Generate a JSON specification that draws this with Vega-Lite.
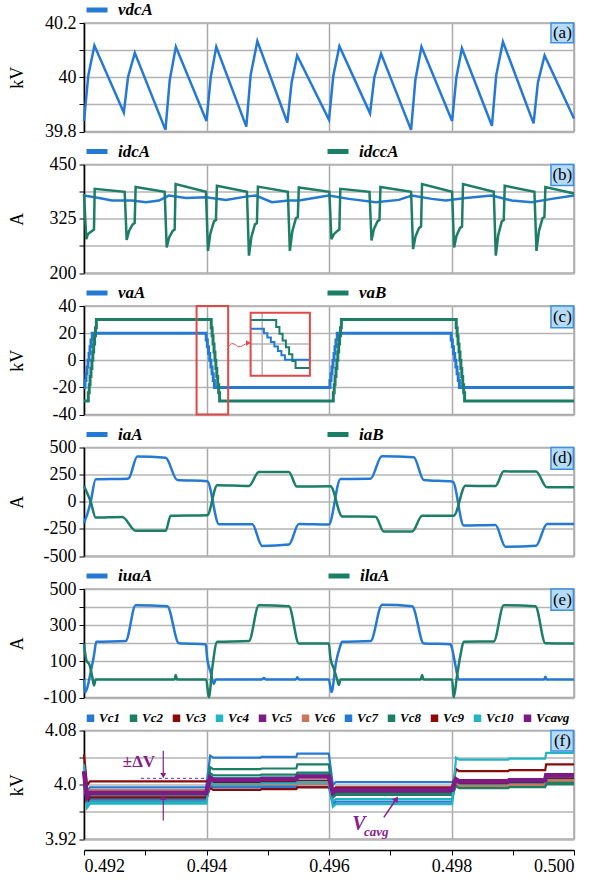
{
"$schema":"https://vega.github.io/schema/vega-lite/v6.json",
"padding":{"left":7,"top":-4,"right":5,"bottom":5},
"bounds":"flush",
"spacing":32.5,
"config":{
 "font":"'Liberation Serif', 'Times New Roman', serif",
 "view":{"stroke":"#aaaaaa","strokeWidth":1.5},
 "axis":{"labelFont":"'Liberation Serif', 'Times New Roman', serif","titleFont":"'Liberation Serif', 'Times New Roman', serif","labelColor":"black","titleColor":"black","labelFontSize":18,"titleFontSize":18,"titleFontWeight":"normal","labelOverlap":false},
 "axisX":{"gridColor":"#aaaaaa","gridWidth":1.5},
 "axisY":{"minExtent":48,"maxExtent":48,"titlePadding":10,"tickSize":5,"labelPadding":3,"domainColor":"black","domainWidth":1.5,"tickColor":"black","gridColor":"#b4b4b4","gridWidth":1.5},
 "legend":{"labelFont":"'Liberation Serif', 'Times New Roman', serif","labelColor":"black","labelFontStyle":"italic","labelFontWeight":"bold","padding":0,"offset":3}
},
"datasets":{
"a":[
{"t":0.492,"s":"vdcA","v":39.839},{"t":0.49207,"s":"vdcA","v":40.006},{"t":0.49217,"s":"vdcA","v":40.117},
{"t":0.49265,"s":"vdcA","v":39.87},{"t":0.49272,"s":"vdcA","v":40.002},{"t":0.49283,"s":"vdcA","v":40.09},
{"t":0.49333,"s":"vdcA","v":39.806},{"t":0.4934,"s":"vdcA","v":39.99},{"t":0.4935,"s":"vdcA","v":40.112},
{"t":0.494,"s":"vdcA","v":39.839},{"t":0.49407,"s":"vdcA","v":40.002},{"t":0.49416,"s":"vdcA","v":40.112},
{"t":0.49465,"s":"vdcA","v":39.818},{"t":0.49472,"s":"vdcA","v":40.007},{"t":0.49483,"s":"vdcA","v":40.133},
{"t":0.49532,"s":"vdcA","v":39.833},{"t":0.49539,"s":"vdcA","v":39.981},{"t":0.49548,"s":"vdcA","v":40.08},
{"t":0.496,"s":"vdcA","v":39.843},{"t":0.49607,"s":"vdcA","v":40.006},{"t":0.49617,"s":"vdcA","v":40.114},
{"t":0.49667,"s":"vdcA","v":39.867},{"t":0.49674,"s":"vdcA","v":39.999},{"t":0.49685,"s":"vdcA","v":40.087},
{"t":0.49734,"s":"vdcA","v":39.806},{"t":0.49741,"s":"vdcA","v":39.99},{"t":0.49751,"s":"vdcA","v":40.112},
{"t":0.49801,"s":"vdcA","v":39.839},{"t":0.49808,"s":"vdcA","v":40.0},{"t":0.49817,"s":"vdcA","v":40.107},
{"t":0.49866,"s":"vdcA","v":39.821},{"t":0.49873,"s":"vdcA","v":40.007},{"t":0.49884,"s":"vdcA","v":40.131},
{"t":0.49934,"s":"vdcA","v":39.83},{"t":0.49941,"s":"vdcA","v":39.98},{"t":0.49952,"s":"vdcA","v":40.08},
{"t":0.5,"s":"vdcA","v":39.848}
],
"b":[
{"t":0.492,"s":"idcA","v":378.5},{"t":0.492245,"s":"idcA","v":373},{"t":0.492457,"s":"idcA","v":367},{"t":0.492783,"s":"idcA","v":367},{"t":0.493012,"s":"idcA","v":363},{"t":0.493224,"s":"idcA","v":367},{"t":0.493387,"s":"idcA","v":378.5},{"t":0.493664,"s":"idcA","v":373},{"t":0.493991,"s":"idcA","v":374.7},{"t":0.494317,"s":"idcA","v":368.5},{"t":0.494643,"s":"idcA","v":376},{"t":0.494806,"s":"idcA","v":378.5},{"t":0.495067,"s":"idcA","v":363},{"t":0.495344,"s":"idcA","v":367},{"t":0.495508,"s":"idcA","v":367},{"t":0.495997,"s":"idcA","v":378.5},{"t":0.496324,"s":"idcA","v":370.8},{"t":0.496764,"s":"idcA","v":363},{"t":0.49714,"s":"idcA","v":368.5},{"t":0.497352,"s":"idcA","v":378.5},{"t":0.497678,"s":"idcA","v":370.8},{"t":0.497906,"s":"idcA","v":367},{"t":0.498233,"s":"idcA","v":373},{"t":0.498657,"s":"idcA","v":378.5},{"t":0.498983,"s":"idcA","v":367},{"t":0.49931,"s":"idcA","v":363},{"t":0.499636,"s":"idcA","v":370.8},{"t":0.5,"s":"idcA","v":378.5},
{"t":0.492,"s":"idccA","v":382},{"t":0.4920375,"s":"idccA","v":278},{"t":0.492065,"s":"idccA","v":290},{"t":0.492131,"s":"idccA","v":297},{"t":0.492163,"s":"idccA","v":300},{"t":0.492175,"s":"idccA","v":394},
{"t":0.492664,"s":"idccA","v":387},{"t":0.492697,"s":"idccA","v":276},{"t":0.492737,"s":"idccA","v":297.6},{"t":0.492795,"s":"idccA","v":312},{"t":0.492827,"s":"idccA","v":315},{"t":0.492843,"s":"idccA","v":398},
{"t":0.493317,"s":"idccA","v":387},{"t":0.49335,"s":"idccA","v":259},{"t":0.49339,"s":"idccA","v":281.8},{"t":0.493448,"s":"idccA","v":297},{"t":0.49348,"s":"idccA","v":300},{"t":0.493496,"s":"idccA","v":405},
{"t":0.493991,"s":"idccA","v":387},{"t":0.494024,"s":"idccA","v":251},{"t":0.494064,"s":"idccA","v":291.8},{"t":0.494122,"s":"idccA","v":319},{"t":0.494154,"s":"idccA","v":322},{"t":0.49417,"s":"idccA","v":401},
{"t":0.49466,"s":"idccA","v":387},{"t":0.494693,"s":"idccA","v":240},{"t":0.494733,"s":"idccA","v":283.2},{"t":0.494791,"s":"idccA","v":312},{"t":0.494823,"s":"idccA","v":315},{"t":0.494839,"s":"idccA","v":399},
{"t":0.495328,"s":"idccA","v":387},{"t":0.495361,"s":"idccA","v":251},{"t":0.495401,"s":"idccA","v":296},{"t":0.495459,"s":"idccA","v":326},{"t":0.495491,"s":"idccA","v":329},{"t":0.495507,"s":"idccA","v":397},
{"t":0.496006,"s":"idccA","v":387},{"t":0.496039,"s":"idccA","v":278},{"t":0.496079,"s":"idccA","v":289.4},{"t":0.496137,"s":"idccA","v":297},{"t":0.496169,"s":"idccA","v":300},{"t":0.496185,"s":"idccA","v":394},
{"t":0.496661,"s":"idccA","v":387},{"t":0.496694,"s":"idccA","v":275},{"t":0.496734,"s":"idccA","v":301.4},{"t":0.496792,"s":"idccA","v":319},{"t":0.496824,"s":"idccA","v":322},{"t":0.49684,"s":"idccA","v":398},
{"t":0.49734,"s":"idccA","v":387},{"t":0.497373,"s":"idccA","v":255},{"t":0.497413,"s":"idccA","v":284.4},{"t":0.497471,"s":"idccA","v":304},{"t":0.497503,"s":"idccA","v":307},{"t":0.497519,"s":"idccA","v":405},
{"t":0.498009,"s":"idccA","v":387},{"t":0.498042,"s":"idccA","v":259},{"t":0.498082,"s":"idccA","v":286},{"t":0.49814,"s":"idccA","v":304},{"t":0.498172,"s":"idccA","v":307},{"t":0.498188,"s":"idccA","v":405},
{"t":0.49869,"s":"idccA","v":387},{"t":0.498723,"s":"idccA","v":240},{"t":0.498763,"s":"idccA","v":287.4},{"t":0.498821,"s":"idccA","v":319},{"t":0.498853,"s":"idccA","v":322},{"t":0.498869,"s":"idccA","v":401},
{"t":0.499354,"s":"idccA","v":387},{"t":0.499387,"s":"idccA","v":251},{"t":0.499427,"s":"idccA","v":296},{"t":0.499485,"s":"idccA","v":326},{"t":0.499517,"s":"idccA","v":329},{"t":0.499533,"s":"idccA","v":398},
{"t":0.5,"s":"idccA","v":383}
],
"c":[
{"t":0.492,"s":"vaA","v":-20},{"t":0.492016,"s":"vaA","v":-15},{"t":0.492033,"s":"vaA","v":-10},{"t":0.492049,"s":"vaA","v":-5},{"t":0.492065,"s":"vaA","v":0},{"t":0.492082,"s":"vaA","v":5},{"t":0.492098,"s":"vaA","v":10},{"t":0.492114,"s":"vaA","v":15},{"t":0.492135,"s":"vaA","v":20},
{"t":0.493995,"s":"vaA","v":15},{"t":0.494014,"s":"vaA","v":10},{"t":0.494033,"s":"vaA","v":5},{"t":0.494053,"s":"vaA","v":0},{"t":0.494072,"s":"vaA","v":-5},{"t":0.494091,"s":"vaA","v":-10},{"t":0.49411,"s":"vaA","v":-15},{"t":0.494129,"s":"vaA","v":-20},
{"t":0.496016,"s":"vaA","v":-15},{"t":0.496033,"s":"vaA","v":-10},{"t":0.496049,"s":"vaA","v":-5},{"t":0.496065,"s":"vaA","v":0},{"t":0.496082,"s":"vaA","v":5},{"t":0.496098,"s":"vaA","v":10},{"t":0.496114,"s":"vaA","v":15},{"t":0.496135,"s":"vaA","v":20},
{"t":0.497995,"s":"vaA","v":15},{"t":0.498014,"s":"vaA","v":10},{"t":0.498033,"s":"vaA","v":5},{"t":0.498053,"s":"vaA","v":0},{"t":0.498072,"s":"vaA","v":-5},{"t":0.498091,"s":"vaA","v":-10},{"t":0.49811,"s":"vaA","v":-15},{"t":0.498129,"s":"vaA","v":-20},
{"t":0.5,"s":"vaA","v":-20},
{"t":0.492,"s":"vaB","v":-30},{"t":0.49207,"s":"vaB","v":-24},{"t":0.492085,"s":"vaB","v":-18},{"t":0.492099,"s":"vaB","v":-12},{"t":0.492114,"s":"vaB","v":-6},{"t":0.492129,"s":"vaB","v":0},{"t":0.492144,"s":"vaB","v":6},{"t":0.492158,"s":"vaB","v":12},{"t":0.492173,"s":"vaB","v":18},{"t":0.492188,"s":"vaB","v":24},{"t":0.492202,"s":"vaB","v":30},
{"t":0.494077,"s":"vaB","v":24},{"t":0.494092,"s":"vaB","v":18},{"t":0.494107,"s":"vaB","v":12},{"t":0.494123,"s":"vaB","v":6},{"t":0.494138,"s":"vaB","v":0},{"t":0.494153,"s":"vaB","v":-6},{"t":0.494168,"s":"vaB","v":-12},{"t":0.494183,"s":"vaB","v":-18},{"t":0.494199,"s":"vaB","v":-24},{"t":0.494214,"s":"vaB","v":-30},
{"t":0.49607,"s":"vaB","v":-24},{"t":0.496085,"s":"vaB","v":-18},{"t":0.496099,"s":"vaB","v":-12},{"t":0.496114,"s":"vaB","v":-6},{"t":0.496129,"s":"vaB","v":0},{"t":0.496144,"s":"vaB","v":6},{"t":0.496158,"s":"vaB","v":12},{"t":0.496173,"s":"vaB","v":18},{"t":0.496188,"s":"vaB","v":24},{"t":0.496202,"s":"vaB","v":30},
{"t":0.498077,"s":"vaB","v":24},{"t":0.498092,"s":"vaB","v":18},{"t":0.498107,"s":"vaB","v":12},{"t":0.498123,"s":"vaB","v":6},{"t":0.498138,"s":"vaB","v":0},{"t":0.498153,"s":"vaB","v":-6},{"t":0.498168,"s":"vaB","v":-12},{"t":0.498183,"s":"vaB","v":-18},{"t":0.498199,"s":"vaB","v":-24},{"t":0.498214,"s":"vaB","v":-30},
{"t":0.5,"s":"vaB","v":-30}
],
"ci":[
{"t":0.49472,"s":"vaA","v":23.3},{"t":0.494937,"s":"vaA","v":20.0},{"t":0.494994,"s":"vaA","v":16.8},{"t":0.495051,"s":"vaA","v":13.5},{"t":0.495109,"s":"vaA","v":10.2},{"t":0.495166,"s":"vaA","v":6.9},{"t":0.495223,"s":"vaA","v":3.7},{"t":0.49528,"s":"vaA","v":0.4},{"t":0.495688,"s":"vaA","v":0.4},
{"t":0.49472,"s":"vaB","v":29.7},{"t":0.495138,"s":"vaB","v":24.6},{"t":0.495191,"s":"vaB","v":19.6},{"t":0.495243,"s":"vaB","v":14.5},{"t":0.495296,"s":"vaB","v":9.5},{"t":0.495349,"s":"vaB","v":4.4},{"t":0.495401,"s":"vaB","v":-0.6},{"t":0.495454,"s":"vaB","v":-5.7},{"t":0.495688,"s":"vaB","v":-5.7}
],
"d":[
{"t":0.492,"s":"iaA","v":-195},{"t":0.492054,"s":"iaA","v":-115},{"t":0.492109,"s":"iaA","v":0},{"t":0.492191,"s":"iaA","v":208},{"t":0.492706,"s":"iaA","v":212},{"t":0.492734,"s":"iaA","v":218},{"t":0.49287,"s":"iaA","v":418},{"t":0.493333,"s":"iaA","v":405},{"t":0.493522,"s":"iaA","v":200},{"t":0.494012,"s":"iaA","v":190},{"t":0.494203,"s":"iaA","v":-207},{"t":0.494746,"s":"iaA","v":-207},{"t":0.494909,"s":"iaA","v":-407},{"t":0.495345,"s":"iaA","v":-395},{"t":0.495508,"s":"iaA","v":-205},{"t":0.495997,"s":"iaA","v":-210},{"t":0.496188,"s":"iaA","v":210},{"t":0.496678,"s":"iaA","v":212},{"t":0.496862,"s":"iaA","v":420},{"t":0.497384,"s":"iaA","v":410},{"t":0.497547,"s":"iaA","v":200},{"t":0.498021,"s":"iaA","v":185},{"t":0.4982,"s":"iaA","v":-220},{"t":0.498717,"s":"iaA","v":-215},{"t":0.49888,"s":"iaA","v":-415},{"t":0.49938,"s":"iaA","v":-405},{"t":0.499559,"s":"iaA","v":-205},{"t":0.5,"s":"iaA","v":-205},
{"t":0.492,"s":"iaB","v":146},{"t":0.492109,"s":"iaB","v":0},{"t":0.492191,"s":"iaB","v":-146},{"t":0.492625,"s":"iaB","v":-140},{"t":0.492844,"s":"iaB","v":-268},{"t":0.493333,"s":"iaB","v":-268},{"t":0.493415,"s":"iaB","v":-130},{"t":0.494012,"s":"iaB","v":-125},{"t":0.494175,"s":"iaB","v":153},{"t":0.494692,"s":"iaB","v":145},{"t":0.494855,"s":"iaB","v":275},{"t":0.495345,"s":"iaB","v":275},{"t":0.495475,"s":"iaB","v":140},{"t":0.496025,"s":"iaB","v":142},{"t":0.496214,"s":"iaB","v":-135},{"t":0.496759,"s":"iaB","v":-138},{"t":0.496895,"s":"iaB","v":-275},{"t":0.497357,"s":"iaB","v":-275},{"t":0.49752,"s":"iaB","v":-130},{"t":0.498037,"s":"iaB","v":-128},{"t":0.498228,"s":"iaB","v":147},{"t":0.498717,"s":"iaB","v":145},{"t":0.498853,"s":"iaB","v":280},{"t":0.49938,"s":"iaB","v":278},{"t":0.499559,"s":"iaB","v":133},{"t":0.5,"s":"iaB","v":133}
],
"e":[
{"t":0.492,"s":"iuaA","v":0},{"t":0.492016,"s":"iuaA","v":-71},{"t":0.492054,"s":"iuaA","v":-45},{"t":0.492109,"s":"iuaA","v":40},{"t":0.492163,"s":"iuaA","v":133},{"t":0.492201,"s":"iuaA","v":208},{"t":0.49268,"s":"iuaA","v":212},{"t":0.492844,"s":"iuaA","v":410},{"t":0.493359,"s":"iuaA","v":405},{"t":0.49355,"s":"iuaA","v":200},{"t":0.493986,"s":"iuaA","v":195},{"t":0.494012,"s":"iuaA","v":115},{"t":0.494067,"s":"iuaA","v":40},{"t":0.494121,"s":"iuaA","v":-25},{"t":0.494149,"s":"iuaA","v":0},{"t":0.494904,"s":"iuaA","v":0},{"t":0.494937,"s":"iuaA","v":8},{"t":0.494969,"s":"iuaA","v":0},{"t":0.495459,"s":"iuaA","v":0},{"t":0.495484,"s":"iuaA","v":12},{"t":0.495508,"s":"iuaA","v":0},{"t":0.495997,"s":"iuaA","v":0},{"t":0.496041,"s":"iuaA","v":-70},{"t":0.496116,"s":"iuaA","v":97},{"t":0.496172,"s":"iuaA","v":171},{"t":0.496214,"s":"iuaA","v":208},{"t":0.496678,"s":"iuaA","v":212},{"t":0.496867,"s":"iuaA","v":413},{"t":0.497357,"s":"iuaA","v":405},{"t":0.497547,"s":"iuaA","v":199},{"t":0.497983,"s":"iuaA","v":195},{"t":0.498009,"s":"iuaA","v":171},{"t":0.498064,"s":"iuaA","v":78},{"t":0.498118,"s":"iuaA","v":0},{"t":0.499513,"s":"iuaA","v":0},{"t":0.499533,"s":"iuaA","v":15},{"t":0.499554,"s":"iuaA","v":0},{"t":0.5,"s":"iuaA","v":0},
{"t":0.492,"s":"ilaA","v":199},{"t":0.492038,"s":"ilaA","v":106},{"t":0.492093,"s":"ilaA","v":78},{"t":0.492135,"s":"ilaA","v":13},{"t":0.492163,"s":"ilaA","v":-33},{"t":0.492191,"s":"ilaA","v":0},{"t":0.493477,"s":"ilaA","v":0},{"t":0.493497,"s":"ilaA","v":25},{"t":0.493518,"s":"ilaA","v":0},{"t":0.493995,"s":"ilaA","v":0},{"t":0.494039,"s":"ilaA","v":-99},{"t":0.494093,"s":"ilaA","v":60},{"t":0.494175,"s":"ilaA","v":208},{"t":0.494692,"s":"ilaA","v":212},{"t":0.494855,"s":"ilaA","v":410},{"t":0.495345,"s":"ilaA","v":405},{"t":0.495508,"s":"ilaA","v":199},{"t":0.495997,"s":"ilaA","v":199},{"t":0.496025,"s":"ilaA","v":115},{"t":0.496079,"s":"ilaA","v":60},{"t":0.496133,"s":"ilaA","v":0},{"t":0.496161,"s":"ilaA","v":-30},{"t":0.496188,"s":"ilaA","v":0},{"t":0.497499,"s":"ilaA","v":0},{"t":0.49752,"s":"ilaA","v":25},{"t":0.497543,"s":"ilaA","v":0},{"t":0.498009,"s":"ilaA","v":0},{"t":0.498037,"s":"ilaA","v":-99},{"t":0.498091,"s":"ilaA","v":22},{"t":0.498146,"s":"ilaA","v":134},{"t":0.4982,"s":"ilaA","v":208},{"t":0.49869,"s":"ilaA","v":210},{"t":0.498853,"s":"ilaA","v":410},{"t":0.49937,"s":"ilaA","v":405},{"t":0.499533,"s":"ilaA","v":200},{"t":0.5,"s":"ilaA","v":198}
],
"f":[
{"t":0.492,"s":"Vc1","v":4.025},{"t":0.492049,"s":"Vc1","v":3.99},{"t":0.492098,"s":"Vc1","v":3.996},{"t":0.493995,"s":"Vc1","v":3.996},{"t":0.49406,"s":"Vc1","v":4.043},{"t":0.49411,"s":"Vc1","v":4.04},{"t":0.49488,"s":"Vc1","v":4.04},{"t":0.494896,"s":"Vc1","v":4.041},{"t":0.495467,"s":"Vc1","v":4.041},{"t":0.495483,"s":"Vc1","v":4.046},{"t":0.495997,"s":"Vc1","v":4.046},{"t":0.496063,"s":"Vc1","v":4.0},{"t":0.496112,"s":"Vc1","v":4.004},{"t":0.498009,"s":"Vc1","v":4.004},{"t":0.498074,"s":"Vc1","v":4.006},{"t":0.498124,"s":"Vc1","v":4.003},{"t":0.498927,"s":"Vc1","v":4.003},{"t":0.498943,"s":"Vc1","v":4.0045},{"t":0.49953,"s":"Vc1","v":4.0045},{"t":0.499546,"s":"Vc1","v":4.012},{"t":0.5,"s":"Vc1","v":4.012},
{"t":0.492,"s":"Vc2","v":4.02},{"t":0.492049,"s":"Vc2","v":3.969},{"t":0.492098,"s":"Vc2","v":3.975},{"t":0.493995,"s":"Vc2","v":3.975},{"t":0.49406,"s":"Vc2","v":4.026},{"t":0.49411,"s":"Vc2","v":4.023},{"t":0.49488,"s":"Vc2","v":4.023},{"t":0.494896,"s":"Vc2","v":4.024},{"t":0.495467,"s":"Vc2","v":4.024},{"t":0.495483,"s":"Vc2","v":4.03},{"t":0.495997,"s":"Vc2","v":4.03},{"t":0.496063,"s":"Vc2","v":3.984},{"t":0.496112,"s":"Vc2","v":3.988},{"t":0.498009,"s":"Vc2","v":3.988},{"t":0.498074,"s":"Vc2","v":4.0},{"t":0.498124,"s":"Vc2","v":3.997},{"t":0.498927,"s":"Vc2","v":3.997},{"t":0.498943,"s":"Vc2","v":3.9985},{"t":0.49953,"s":"Vc2","v":3.9985},{"t":0.499546,"s":"Vc2","v":4.004},{"t":0.5,"s":"Vc2","v":4.004},
{"t":0.492,"s":"Vc3","v":4.045},{"t":0.492049,"s":"Vc3","v":3.999},{"t":0.492098,"s":"Vc3","v":4.005},{"t":0.493995,"s":"Vc3","v":4.005},{"t":0.49406,"s":"Vc3","v":4.006},{"t":0.49411,"s":"Vc3","v":4.003},{"t":0.49488,"s":"Vc3","v":4.003},{"t":0.494896,"s":"Vc3","v":4.004},{"t":0.495467,"s":"Vc3","v":4.004},{"t":0.495483,"s":"Vc3","v":4.006},{"t":0.495997,"s":"Vc3","v":4.006},{"t":0.496063,"s":"Vc3","v":3.99},{"t":0.496112,"s":"Vc3","v":3.994},{"t":0.498009,"s":"Vc3","v":3.994},{"t":0.498074,"s":"Vc3","v":4.004},{"t":0.498124,"s":"Vc3","v":4.001},{"t":0.498927,"s":"Vc3","v":4.001},{"t":0.498943,"s":"Vc3","v":4.0025},{"t":0.49953,"s":"Vc3","v":4.0025},{"t":0.499546,"s":"Vc3","v":4.009},{"t":0.5,"s":"Vc3","v":4.009},
{"t":0.492,"s":"Vc4","v":4.03},{"t":0.492049,"s":"Vc4","v":3.966},{"t":0.492098,"s":"Vc4","v":3.972},{"t":0.493995,"s":"Vc4","v":3.972},{"t":0.49406,"s":"Vc4","v":4.013},{"t":0.49411,"s":"Vc4","v":4.01},{"t":0.49488,"s":"Vc4","v":4.01},{"t":0.494896,"s":"Vc4","v":4.011},{"t":0.495467,"s":"Vc4","v":4.011},{"t":0.495483,"s":"Vc4","v":4.016},{"t":0.495997,"s":"Vc4","v":4.016},{"t":0.496063,"s":"Vc4","v":3.975},{"t":0.496112,"s":"Vc4","v":3.979},{"t":0.498009,"s":"Vc4","v":3.979},{"t":0.498074,"s":"Vc4","v":4.002},{"t":0.498124,"s":"Vc4","v":3.999},{"t":0.498927,"s":"Vc4","v":3.999},{"t":0.498943,"s":"Vc4","v":4.0005},{"t":0.49953,"s":"Vc4","v":4.0005},{"t":0.499546,"s":"Vc4","v":4.007},{"t":0.5,"s":"Vc4","v":4.007},
{"t":0.492,"s":"Vc5","v":4.015},{"t":0.492049,"s":"Vc5","v":3.98},{"t":0.492098,"s":"Vc5","v":3.986},{"t":0.493995,"s":"Vc5","v":3.986},{"t":0.49406,"s":"Vc5","v":4.009},{"t":0.49411,"s":"Vc5","v":4.006},{"t":0.49488,"s":"Vc5","v":4.006},{"t":0.494896,"s":"Vc5","v":4.007},{"t":0.495467,"s":"Vc5","v":4.007},{"t":0.495483,"s":"Vc5","v":4.012},{"t":0.495997,"s":"Vc5","v":4.012},{"t":0.496063,"s":"Vc5","v":3.986},{"t":0.496112,"s":"Vc5","v":3.99},{"t":0.498009,"s":"Vc5","v":3.99},{"t":0.498074,"s":"Vc5","v":4.007},{"t":0.498124,"s":"Vc5","v":4.004},{"t":0.498927,"s":"Vc5","v":4.004},{"t":0.498943,"s":"Vc5","v":4.0055},{"t":0.49953,"s":"Vc5","v":4.0055},{"t":0.499546,"s":"Vc5","v":4.014},{"t":0.5,"s":"Vc5","v":4.014},
{"t":0.492,"s":"Vc6","v":4.01},{"t":0.492049,"s":"Vc6","v":3.986},{"t":0.492098,"s":"Vc6","v":3.992},{"t":0.493995,"s":"Vc6","v":3.992},{"t":0.49406,"s":"Vc6","v":4.001},{"t":0.49411,"s":"Vc6","v":3.998},{"t":0.49488,"s":"Vc6","v":3.998},{"t":0.494896,"s":"Vc6","v":3.999},{"t":0.495467,"s":"Vc6","v":3.999},{"t":0.495483,"s":"Vc6","v":4.001},{"t":0.495997,"s":"Vc6","v":4.001},{"t":0.496063,"s":"Vc6","v":3.987},{"t":0.496112,"s":"Vc6","v":3.991},{"t":0.498009,"s":"Vc6","v":3.991},{"t":0.498074,"s":"Vc6","v":4.001},{"t":0.498124,"s":"Vc6","v":3.998},{"t":0.498927,"s":"Vc6","v":3.998},{"t":0.498943,"s":"Vc6","v":3.9995},{"t":0.49953,"s":"Vc6","v":3.9995},{"t":0.499546,"s":"Vc6","v":4.006},{"t":0.5,"s":"Vc6","v":4.006},
{"t":0.492,"s":"Vc7","v":4.005},{"t":0.492049,"s":"Vc7","v":3.972},{"t":0.492098,"s":"Vc7","v":3.978},{"t":0.493995,"s":"Vc7","v":3.978},{"t":0.49406,"s":"Vc7","v":3.999},{"t":0.49411,"s":"Vc7","v":3.996},{"t":0.49488,"s":"Vc7","v":3.996},{"t":0.494896,"s":"Vc7","v":3.997},{"t":0.495467,"s":"Vc7","v":3.997},{"t":0.495483,"s":"Vc7","v":3.997},{"t":0.495997,"s":"Vc7","v":3.997},{"t":0.496063,"s":"Vc7","v":3.971},{"t":0.496112,"s":"Vc7","v":3.975},{"t":0.498009,"s":"Vc7","v":3.975},{"t":0.498074,"s":"Vc7","v":4.009},{"t":0.498124,"s":"Vc7","v":4.006},{"t":0.498927,"s":"Vc7","v":4.006},{"t":0.498943,"s":"Vc7","v":4.0075},{"t":0.49953,"s":"Vc7","v":4.0075},{"t":0.499546,"s":"Vc7","v":4.0155},{"t":0.5,"s":"Vc7","v":4.0155},
{"t":0.492,"s":"Vc8","v":4.0},{"t":0.492049,"s":"Vc8","v":3.977},{"t":0.492098,"s":"Vc8","v":3.983},{"t":0.493995,"s":"Vc8","v":3.983},{"t":0.49406,"s":"Vc8","v":4.017},{"t":0.49411,"s":"Vc8","v":4.014},{"t":0.49488,"s":"Vc8","v":4.014},{"t":0.494896,"s":"Vc8","v":4.015},{"t":0.495467,"s":"Vc8","v":4.015},{"t":0.495483,"s":"Vc8","v":4.018},{"t":0.495997,"s":"Vc8","v":4.018},{"t":0.496063,"s":"Vc8","v":3.981},{"t":0.496112,"s":"Vc8","v":3.985},{"t":0.498009,"s":"Vc8","v":3.985},{"t":0.498074,"s":"Vc8","v":3.998},{"t":0.498124,"s":"Vc8","v":3.995},{"t":0.498927,"s":"Vc8","v":3.995},{"t":0.498943,"s":"Vc8","v":3.9965},{"t":0.49953,"s":"Vc8","v":3.9965},{"t":0.499546,"s":"Vc8","v":4.001},{"t":0.5,"s":"Vc8","v":4.001},
{"t":0.492,"s":"Vc9","v":4.02},{"t":0.492049,"s":"Vc9","v":3.975},{"t":0.492098,"s":"Vc9","v":3.981},{"t":0.493995,"s":"Vc9","v":3.981},{"t":0.49406,"s":"Vc9","v":3.9955},{"t":0.49411,"s":"Vc9","v":3.9925},{"t":0.49488,"s":"Vc9","v":3.9925},{"t":0.494896,"s":"Vc9","v":3.9935},{"t":0.495467,"s":"Vc9","v":3.9935},{"t":0.495483,"s":"Vc9","v":3.996},{"t":0.495997,"s":"Vc9","v":3.996},{"t":0.496063,"s":"Vc9","v":3.992},{"t":0.496112,"s":"Vc9","v":3.996},{"t":0.498009,"s":"Vc9","v":3.996},{"t":0.498074,"s":"Vc9","v":4.023},{"t":0.498124,"s":"Vc9","v":4.02},{"t":0.498927,"s":"Vc9","v":4.02},{"t":0.498943,"s":"Vc9","v":4.0215},{"t":0.49953,"s":"Vc9","v":4.0215},{"t":0.499546,"s":"Vc9","v":4.03},{"t":0.5,"s":"Vc9","v":4.03},
{"t":0.492,"s":"Vc10","v":4.025},{"t":0.492049,"s":"Vc10","v":3.968},{"t":0.492098,"s":"Vc10","v":3.974},{"t":0.493995,"s":"Vc10","v":3.974},{"t":0.49406,"s":"Vc10","v":4.004},{"t":0.49411,"s":"Vc10","v":4.001},{"t":0.49488,"s":"Vc10","v":4.001},{"t":0.494896,"s":"Vc10","v":4.002},{"t":0.495467,"s":"Vc10","v":4.002},{"t":0.495483,"s":"Vc10","v":4.004},{"t":0.495997,"s":"Vc10","v":4.004},{"t":0.496063,"s":"Vc10","v":3.9675},{"t":0.496112,"s":"Vc10","v":3.9715},{"t":0.498009,"s":"Vc10","v":3.9715},{"t":0.498074,"s":"Vc10","v":4.04},{"t":0.498124,"s":"Vc10","v":4.037},{"t":0.498927,"s":"Vc10","v":4.037},{"t":0.498943,"s":"Vc10","v":4.0385},{"t":0.49953,"s":"Vc10","v":4.0385},{"t":0.499546,"s":"Vc10","v":4.047},{"t":0.5,"s":"Vc10","v":4.047},
{"t":0.492,"s":"Vcavg","v":4.02},{"t":0.492049,"s":"Vcavg","v":3.982},{"t":0.492098,"s":"Vcavg","v":3.988},{"t":0.493995,"s":"Vcavg","v":3.988},{"t":0.49406,"s":"Vcavg","v":4.0105},{"t":0.49411,"s":"Vcavg","v":4.0075},{"t":0.49488,"s":"Vcavg","v":4.0075},{"t":0.494896,"s":"Vcavg","v":4.0085},{"t":0.495467,"s":"Vcavg","v":4.0085},{"t":0.495483,"s":"Vcavg","v":4.012},{"t":0.495997,"s":"Vcavg","v":4.012},{"t":0.496063,"s":"Vcavg","v":3.9885},{"t":0.496112,"s":"Vcavg","v":3.9925},{"t":0.498009,"s":"Vcavg","v":3.9925},{"t":0.498074,"s":"Vcavg","v":4.008},{"t":0.498124,"s":"Vcavg","v":4.005},{"t":0.498927,"s":"Vcavg","v":4.005},{"t":0.498943,"s":"Vcavg","v":4.0065},{"t":0.49953,"s":"Vcavg","v":4.0065},{"t":0.499546,"s":"Vcavg","v":4.014},{"t":0.5,"s":"Vcavg","v":4.014}
]
},
"vconcat":[
{"width":490,"height":108.5,"layer":[
 {"data":{"name":"a"},"mark":{"type":"line","strokeWidth":2.5},
  "encoding":{
   "x":{"field":"t","type":"quantitative","scale":{"domain":[0.492,0.5],"nice":false,"zero":false},"axis":{"values":[0.492,0.494,0.496,0.498,0.5],"tickCount":20,"grid":true,"labels":false,"ticks":false,"domain":false,"title":null}},
   "y":{"field":"v","type":"quantitative","scale":{"domain":[39.8,40.2],"nice":false,"zero":false},"axis":{"title":"kV","tickCount":20,"values":[39.8,39.9,40,40.1,40.2],"labelExpr":"datum.value==40.2?'40.2':datum.value==40?'40':datum.value==39.8?'39.8':''"}},
   "color":{"field":"s","type":"nominal","scale":{"domain":["vdcA"],"range":["#2479d5"]},"legend":{"orient":"top","title":null,"direction":"horizontal","symbolType":"stroke","symbolSize":441,"symbolStrokeWidth":5,"labelFontSize":17,"labelOffset":8}}
  }},
 {"data":{"values":[{"t1":0.499624,"t2":0.49999,"v1":40.2,"v2":40.127,"tc":0.49981,"vc":40.163,"lab":"(a)"}]},
  "layer":[
   {"mark":{"type":"rect","fill":"#b5dbf7","stroke":"#3d8fe0","strokeWidth":1.5},"encoding":{"x":{"field":"t1","type":"quantitative"},"x2":{"field":"t2"},"y":{"field":"v1","type":"quantitative"},"y2":{"field":"v2"}}},
   {"mark":{"type":"text","fontSize":17,"baseline":"middle","color":"black"},"encoding":{"x":{"field":"tc","type":"quantitative"},"y":{"field":"vc","type":"quantitative"},"text":{"field":"lab"}}}
  ]}
]},
{"width":490,"height":108.5,"layer":[
 {"data":{"name":"b"},"mark":{"type":"line","strokeWidth":2.5},
  "encoding":{
   "x":{"field":"t","type":"quantitative","scale":{"domain":[0.492,0.5],"nice":false,"zero":false},"axis":{"values":[0.492,0.494,0.496,0.498,0.5],"tickCount":20,"grid":true,"labels":false,"ticks":false,"domain":false,"title":null}},
   "y":{"field":"v","type":"quantitative","scale":{"domain":[200,450],"nice":false,"zero":false},"axis":{"title":"A","tickCount":20,"values":[200,262.5,325,387.5,450],"labelExpr":"datum.value==200?'200':datum.value==325?'325':datum.value==450?'450':''"}},
   "color":{"field":"s","type":"nominal","scale":{"domain":["idcA","idccA"],"range":["#2479d5","#1c7e66"]},"legend":{"orient":"top","title":null,"direction":"horizontal","columns":2,"gridAlign":"all","columnPadding":159,"symbolType":"stroke","symbolSize":441,"symbolStrokeWidth":5,"labelFontSize":17,"labelOffset":8}}
  }},
 {"data":{"values":[{"t1":0.499624,"t2":0.49999,"v1":450,"v2":401.5,"tc":0.49981,"vc":425.7,"lab":"(b)"}]},
  "layer":[
   {"mark":{"type":"rect","fill":"#b5dbf7","stroke":"#3d8fe0","strokeWidth":1.5},"encoding":{"x":{"field":"t1","type":"quantitative"},"x2":{"field":"t2"},"y":{"field":"v1","type":"quantitative"},"y2":{"field":"v2"}}},
   {"mark":{"type":"text","fontSize":17,"baseline":"middle","color":"black"},"encoding":{"x":{"field":"tc","type":"quantitative"},"y":{"field":"vc","type":"quantitative"},"text":{"field":"lab"}}}
  ]}
]},
{"width":490,"height":108.5,"layer":[
 {"data":{"name":"c"},"mark":{"type":"line","strokeWidth":3,"interpolate":"step-after"},
  "encoding":{
   "x":{"field":"t","type":"quantitative","scale":{"domain":[0.492,0.5],"nice":false,"zero":false},"axis":{"values":[0.492,0.494,0.496,0.498,0.5],"tickCount":20,"grid":true,"labels":false,"ticks":false,"domain":false,"title":null}},
   "y":{"field":"v","type":"quantitative","scale":{"domain":[-40,40],"nice":false,"zero":false},"axis":{"title":"kV","tickCount":20,"values":[-40,-20,0,20,40],"labelExpr":"datum.value==-40?'-40':datum.value==-20?'-20':datum.value==0?'0':datum.value==20?'20':'40'"}},
   "color":{"field":"s","type":"nominal","scale":{"domain":["vaA","vaB"],"range":["#2479d5","#1c7e66"]},"legend":{"orient":"top","title":null,"direction":"horizontal","columns":2,"gridAlign":"all","columnPadding":171,"symbolType":"stroke","symbolSize":441,"symbolStrokeWidth":5,"labelFontSize":17,"labelOffset":8}}
  }},
 {"data":{"values":[{"t":0.494909,"t2":0.494909,"v":35.08,"v2":-11.4},{"t":0.49472,"t2":0.495688,"v":11.9,"v2":11.9}]},
  "mark":{"type":"rule","color":"#b4b4b4","strokeWidth":1.5},
  "encoding":{"x":{"field":"t","type":"quantitative"},"x2":{"field":"t2"},"y":{"field":"v","type":"quantitative"},"y2":{"field":"v2"}}},
 {"data":{"name":"ci"},"mark":{"type":"line","strokeWidth":2,"interpolate":"step-after"},
  "encoding":{"x":{"field":"t","type":"quantitative"},"y":{"field":"v","type":"quantitative"},
   "stroke":{"field":"s","type":"nominal","scale":{"domain":["vaA","vaB"],"range":["#2479d5","#1c7e66"]},"legend":null}}},
 {"data":{"values":[{"t1":0.493838,"t2":0.494354,"v1":40,"v2":-40},{"t1":0.49472,"t2":0.495688,"v1":35.08,"v2":-11.4}]},
  "mark":{"type":"rect","fillOpacity":0,"stroke":"#e04848","strokeWidth":2},
  "encoding":{"x":{"field":"t1","type":"quantitative"},"x2":{"field":"t2"},"y":{"field":"v1","type":"quantitative"},"y2":{"field":"v2"}}},
 {"data":{"values":[{"t":0.494366,"v":10.64},{"t":0.49442,"v":12.3},{"t":0.494475,"v":11.4},{"t":0.494529,"v":9.9},{"t":0.494583,"v":10.6},{"t":0.494638,"v":12.1},{"t":0.494685,"v":12.8}]},
  "mark":{"type":"line","color":"#e04848","strokeWidth":1,"interpolate":"monotone"},
  "encoding":{"x":{"field":"t","type":"quantitative"},"y":{"field":"v","type":"quantitative"}}},
 {"data":{"values":[{"t":0.494685,"v":12.8}]},
  "mark":{"type":"point","shape":"triangle-right","filled":true,"color":"#e04848","size":30,"opacity":1},
  "encoding":{"x":{"field":"t","type":"quantitative"},"y":{"field":"v","type":"quantitative"}}},
 {"data":{"values":[{"t1":0.499624,"t2":0.49999,"v1":40,"v2":23.9,"tc":0.49981,"vc":32,"lab":"(c)"}]},
  "layer":[
   {"mark":{"type":"rect","fill":"#b5dbf7","stroke":"#3d8fe0","strokeWidth":1.5},"encoding":{"x":{"field":"t1","type":"quantitative"},"x2":{"field":"t2"},"y":{"field":"v1","type":"quantitative"},"y2":{"field":"v2"}}},
   {"mark":{"type":"text","fontSize":17,"baseline":"middle","color":"black"},"encoding":{"x":{"field":"tc","type":"quantitative"},"y":{"field":"vc","type":"quantitative"},"text":{"field":"lab"}}}
  ]}
]},
{"width":490,"height":108.5,"layer":[
 {"data":{"name":"d"},"mark":{"type":"line","strokeWidth":2.5,"interpolate":"monotone"},
  "encoding":{
   "x":{"field":"t","type":"quantitative","scale":{"domain":[0.492,0.5],"nice":false,"zero":false},"axis":{"values":[0.492,0.494,0.496,0.498,0.5],"tickCount":20,"grid":true,"labels":false,"ticks":false,"domain":false,"title":null}},
   "y":{"field":"v","type":"quantitative","scale":{"domain":[-500,500],"nice":false,"zero":false},"axis":{"title":"A","tickCount":20,"values":[-500,-250,0,250,500],"labelExpr":"datum.value==-500?'-500':datum.value==-250?'-250':datum.value==0?'0':datum.value==250?'250':'500'"}},
   "color":{"field":"s","type":"nominal","scale":{"domain":["iaA","iaB"],"range":["#2479d5","#1c7e66"]},"legend":{"orient":"top","title":null,"direction":"horizontal","columns":2,"gridAlign":"all","columnPadding":174,"symbolType":"stroke","symbolSize":441,"symbolStrokeWidth":5,"labelFontSize":17,"labelOffset":8}}
  }},
 {"data":{"values":[{"t1":0.499624,"t2":0.49999,"v1":500,"v2":300,"tc":0.49981,"vc":400,"lab":"(d)"}]},
  "layer":[
   {"mark":{"type":"rect","fill":"#b5dbf7","stroke":"#3d8fe0","strokeWidth":1.5},"encoding":{"x":{"field":"t1","type":"quantitative"},"x2":{"field":"t2"},"y":{"field":"v1","type":"quantitative"},"y2":{"field":"v2"}}},
   {"mark":{"type":"text","fontSize":17,"baseline":"middle","color":"black"},"encoding":{"x":{"field":"tc","type":"quantitative"},"y":{"field":"vc","type":"quantitative"},"text":{"field":"lab"}}}
  ]}
]},
{"width":490,"height":108.5,"layer":[
 {"data":{"name":"e"},"mark":{"type":"line","strokeWidth":2.5,"interpolate":"monotone"},
  "encoding":{
   "x":{"field":"t","type":"quantitative","scale":{"domain":[0.492,0.5],"nice":false,"zero":false},"axis":{"values":[0.492,0.494,0.496,0.498,0.5],"tickCount":20,"grid":true,"labels":false,"ticks":false,"domain":false,"title":null}},
   "y":{"field":"v","type":"quantitative","scale":{"domain":[-100,500],"nice":false,"zero":false},"axis":{"title":"A","tickCount":20,"values":[-100,0,100,200,300,400,500],"labelExpr":"datum.value==-100?'-100':datum.value==100?'100':datum.value==300?'300':datum.value==500?'500':''"}},
   "color":{"field":"s","type":"nominal","scale":{"domain":["iuaA","ilaA"],"range":["#2479d5","#1c7e66"]},"legend":{"orient":"top","title":null,"direction":"horizontal","columns":2,"gridAlign":"all","columnPadding":165,"symbolType":"stroke","symbolSize":441,"symbolStrokeWidth":5,"labelFontSize":17,"labelOffset":8}}
  }},
 {"data":{"values":[{"t1":0.499624,"t2":0.49999,"v1":500,"v2":382,"tc":0.49981,"vc":441,"lab":"(e)"}]},
  "layer":[
   {"mark":{"type":"rect","fill":"#b5dbf7","stroke":"#3d8fe0","strokeWidth":1.5},"encoding":{"x":{"field":"t1","type":"quantitative"},"x2":{"field":"t2"},"y":{"field":"v1","type":"quantitative"},"y2":{"field":"v2"}}},
   {"mark":{"type":"text","fontSize":17,"baseline":"middle","color":"black"},"encoding":{"x":{"field":"tc","type":"quantitative"},"y":{"field":"vc","type":"quantitative"},"text":{"field":"lab"}}}
  ]}
]},
{"width":490,"height":108.5,"layer":[
 {"data":{"name":"f"},"transform":[{"filter":"datum.s!='Vcavg'"}],"mark":{"type":"line","strokeWidth":2.2},
  "encoding":{
   "x":{"field":"t","type":"quantitative","scale":{"domain":[0.492,0.5],"nice":false,"zero":false},"axis":{"values":[0.492,0.493,0.494,0.495,0.496,0.497,0.498,0.499,0.5],"tickCount":20,"grid":true,"gridOpacity":{"condition":{"test":"round(datum.value*1000)%2==1","value":0},"value":1},"labelExpr":"round(datum.value*1000)%2==0?format(datum.value,'.3f'):''","offset":11,"title":null,"domainColor":"black","domainWidth":1.5,"tickColor":"black","tickSize":5,"labelPadding":2,"labelFontSize":18}},
   "y":{"field":"v","type":"quantitative","scale":{"domain":[3.92,4.08],"nice":false,"zero":false},"axis":{"title":"kV","tickCount":20,"values":[3.92,3.96,4.0,4.04,4.08],"labelExpr":"datum.value==4.08?'4.08':datum.value==4?'4.0':datum.value==3.92?'3.92':''"}},
   "color":{"field":"s","type":"nominal","scale":{"domain":["Vc1","Vc2","Vc3","Vc4","Vc5","Vc6","Vc7","Vc8","Vc9","Vc10","Vcavg"],"range":["#2479d5","#1c7e66","#8b0a0a","#23b5c5","#7d1a86","#c8785a","#2479d5","#1c7e66","#8b0a0a","#23b5c5","#7d1a86"]},"legend":{"orient":"top","title":null,"direction":"horizontal","columns":11,"columnPadding":1,"symbolType":"square","symbolSize":4,"symbolStrokeWidth":5.5,"labelFontSize":13,"labelOffset":2,"offset":0}}
  }},
 {"data":{"name":"f"},"transform":[{"filter":"datum.s=='Vcavg'"}],"mark":{"type":"line","strokeWidth":4.5},
  "encoding":{"x":{"field":"t","type":"quantitative"},"y":{"field":"v","type":"quantitative"},
   "color":{"field":"s","type":"nominal","scale":{"domain":["Vc1","Vc2","Vc3","Vc4","Vc5","Vc6","Vc7","Vc8","Vc9","Vc10","Vcavg"],"range":["#2479d5","#1c7e66","#8b0a0a","#23b5c5","#7d1a86","#c8785a","#2479d5","#1c7e66","#8b0a0a","#23b5c5","#7d1a86"]},"legend":null}}},
 {"data":{"values":[{"t":0.493294,"v":4.0502,"v2":4.0135},{"t":0.493294,"v":3.9474,"v2":3.9815}]},
  "mark":{"type":"rule","color":"#8a1c8a","strokeWidth":1.2},
  "encoding":{"x":{"field":"t","type":"quantitative"},"y":{"field":"v","type":"quantitative"},"y2":{"field":"v2"}}},
 {"data":{"values":[{"t":0.49293,"t2":0.49399,"v":4.0095}]},
  "mark":{"type":"rule","color":"#8a1c8a","strokeWidth":1,"strokeDash":[3,3]},
  "encoding":{"x":{"field":"t","type":"quantitative"},"x2":{"field":"t2"},"y":{"field":"v","type":"quantitative"}}},
 {"data":{"values":[{"t":0.493294,"v":4.0135,"sh":"triangle-down"},{"t":0.493294,"v":3.9815,"sh":"triangle-up"}]},
  "mark":{"type":"point","filled":true,"color":"#8a1c8a","size":35,"opacity":1},
  "encoding":{"x":{"field":"t","type":"quantitative"},"y":{"field":"v","type":"quantitative"},"shape":{"field":"sh","type":"nominal","scale":null,"legend":null}}},
 {"data":{"values":[{"t":0.496895,"v":3.952},{"t":0.4971,"v":3.979}]},
  "mark":{"type":"line","color":"#8a1c8a","strokeWidth":1.5},
  "encoding":{"x":{"field":"t","type":"quantitative"},"y":{"field":"v","type":"quantitative"}}},
 {"data":{"values":[{"t":0.4971,"v":3.979}]},
  "mark":{"type":"point","shape":"triangle-up","angle":34,"filled":true,"color":"#8a1c8a","size":45,"opacity":1},
  "encoding":{"x":{"field":"t","type":"quantitative"},"y":{"field":"v","type":"quantitative"}}},
 {"data":{"values":[{"t":0.492897,"v":4.034,"lab":"±ΔV"}]},
  "mark":{"type":"text","fontSize":17,"fontWeight":"bold","color":"#8a1c8a","baseline":"middle"},
  "encoding":{"x":{"field":"t","type":"quantitative"},"y":{"field":"v","type":"quantitative"},"text":{"field":"lab"}}},
 {"data":{"values":[{"t":0.496487,"v":3.942,"lab":"V"}]},
  "mark":{"type":"text","fontSize":20,"fontWeight":"bold","fontStyle":"italic","color":"#8a1c8a","baseline":"middle"},
  "encoding":{"x":{"field":"t","type":"quantitative"},"y":{"field":"v","type":"quantitative"},"text":{"field":"lab"}}},
 {"data":{"values":[{"t":0.49677,"v":3.931,"lab":"cavg"}]},
  "mark":{"type":"text","fontSize":13,"fontWeight":"bold","fontStyle":"italic","color":"#8a1c8a","baseline":"middle"},
  "encoding":{"x":{"field":"t","type":"quantitative"},"y":{"field":"v","type":"quantitative"},"text":{"field":"lab"}}},
 {"data":{"values":[{"t1":0.499624,"t2":0.49999,"v1":4.08,"v2":4.0498,"tc":0.49981,"vc":4.065,"lab":"(f)"}]},
  "layer":[
   {"mark":{"type":"rect","fill":"#b5dbf7","stroke":"#3d8fe0","strokeWidth":1.5},"encoding":{"x":{"field":"t1","type":"quantitative"},"x2":{"field":"t2"},"y":{"field":"v1","type":"quantitative"},"y2":{"field":"v2"}}},
   {"mark":{"type":"text","fontSize":17,"baseline":"middle","color":"black"},"encoding":{"x":{"field":"tc","type":"quantitative"},"y":{"field":"vc","type":"quantitative"},"text":{"field":"lab"}}}
  ]}
]}
],
"resolve":{"scale":{"color":"independent","stroke":"independent"},"legend":{"color":"independent"}}
}
